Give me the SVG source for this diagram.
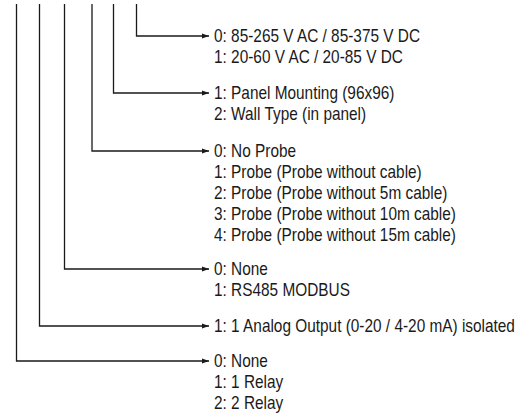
<svg xmlns="http://www.w3.org/2000/svg" width="527" height="414" viewBox="0 0 527 414">
<style>
.c{fill:none;stroke:#1a1a1a;stroke-width:1.3}
.t{font-family:"Liberation Sans",Arial,sans-serif;font-size:18px;fill:#1a1a1a}
</style>
<defs>
<marker id="ah" markerWidth="8" markerHeight="6" refX="7" refY="3" orient="auto" markerUnits="userSpaceOnUse">
<path d="M0,0.5 L7,3 L0,5.5 Z" fill="#1a1a1a"/>
</marker>
</defs>
<rect width="527" height="414" fill="#fff"/>
<g id="connectors">
<path class="c" d="M136.5,4 V36 H209" marker-end="url(#ah)"/>
<path class="c" d="M113.5,4 V93 H209" marker-end="url(#ah)"/>
<path class="c" d="M92,4 V151 H209" marker-end="url(#ah)"/>
<path class="c" d="M64.5,4 V269 H209" marker-end="url(#ah)"/>
<path class="c" d="M39.5,4 V326 H209" marker-end="url(#ah)"/>
<path class="c" d="M16.5,4 V361 H209" marker-end="url(#ah)"/>
</g>
<g id="power" class="t" transform="matrix(0.855,0,0,1,214,0)">
<text x="0" y="42.5">0: 85-265 V AC / 85-375 V DC</text>
<text x="0" y="63.5">1: 20-60 V AC / 20-85 V DC</text>
</g>
<g id="mounting" class="t" transform="matrix(0.855,0,0,1,214,0)">
<text x="0" y="99.5">1: Panel Mounting (96x96)</text>
<text x="0" y="120.5">2: Wall Type (in panel)</text>
</g>
<g id="probe" class="t" transform="matrix(0.855,0,0,1,214,0)">
<text x="0" y="157.5">0: No Probe</text>
<text x="0" y="178.5">1: Probe (Probe without cable)</text>
<text x="0" y="199.5">2: Probe (Probe without 5m cable)</text>
<text x="0" y="220.5">3: Probe (Probe without 10m cable)</text>
<text x="0" y="241.5">4: Probe (Probe without 15m cable)</text>
</g>
<g id="comm" class="t" transform="matrix(0.855,0,0,1,214,0)">
<text x="0" y="275.5">0: None</text>
<text x="0" y="296.5">1: RS485 MODBUS</text>
</g>
<g id="analog" class="t" transform="matrix(0.855,0,0,1,214,0)">
<text x="0" y="332.5">1: 1 Analog Output (0-20 / 4-20 mA) isolated</text>
</g>
<g id="relay" class="t" transform="matrix(0.855,0,0,1,214,0)">
<text x="0" y="367.5">0: None</text>
<text x="0" y="388.5">1: 1 Relay</text>
<text x="0" y="409.5">2: 2 Relay</text>
</g>
</svg>
